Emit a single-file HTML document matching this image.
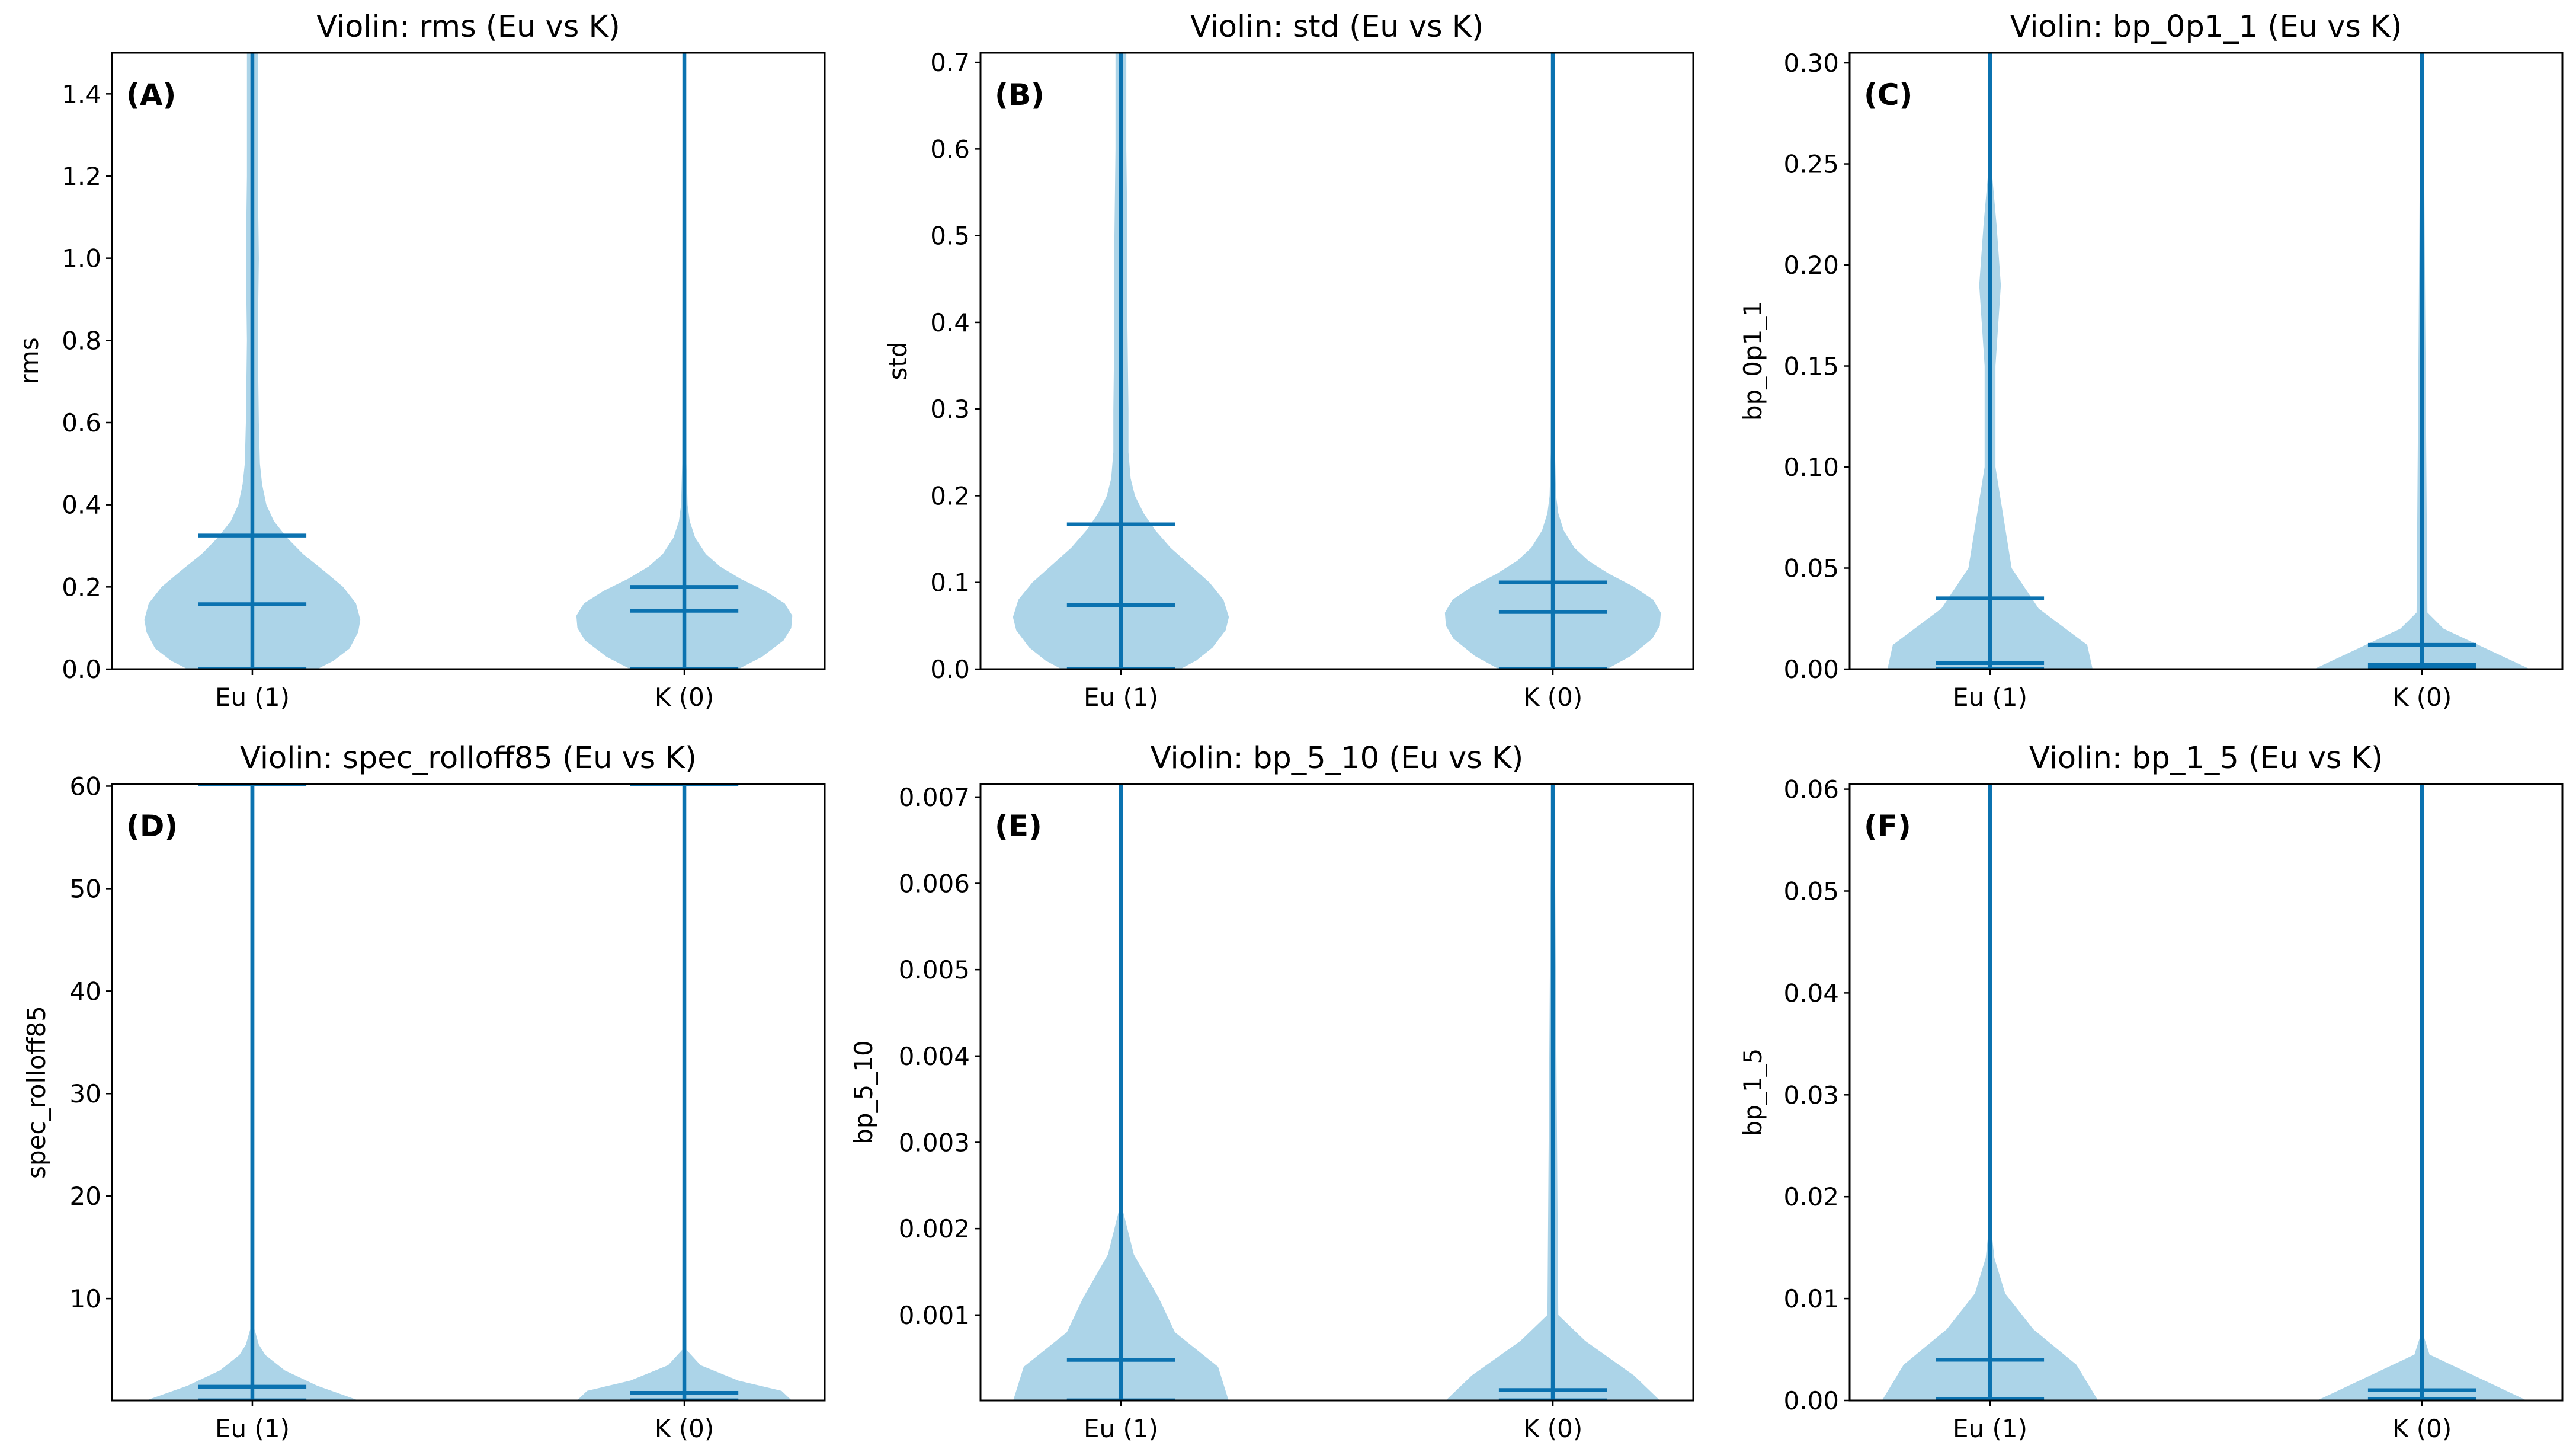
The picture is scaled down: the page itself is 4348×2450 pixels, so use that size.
<!DOCTYPE html>
<html><head><meta charset="utf-8"><style>
html,body{margin:0;padding:0;background:#fff;}
svg{display:block;font-family:"DejaVu Sans","Liberation Sans",sans-serif;}
</style></head><body>
<svg id="fig" width="4348" height="2450" viewBox="0 0 4348 2450" xmlns="http://www.w3.org/2000/svg"></svg>
<script>
const categories = ["Eu (1)", "K (0)"];
const titles = ["Violin: rms (Eu vs K)","Violin: std (Eu vs K)","Violin: bp_0p1_1 (Eu vs K)","Violin: spec_rolloff85 (Eu vs K)","Violin: bp_5_10 (Eu vs K)","Violin: bp_1_5 (Eu vs K)"];
const ylabels = ["rms","std","bp_0p1_1","spec_rolloff85","bp_5_10","bp_1_5"];
const letters = ["(A)","(B)","(C)","(D)","(E)","(F)"];
const ylims = [[0,1.5],[0,0.711],[0,0.305],[0.06,60.2],[0.00001,0.00715],[0,0.0605]];
const tickVals = [[0,0.2,0.4,0.6,0.8,1.0,1.2,1.4],[0,0.1,0.2,0.3,0.4,0.5,0.6,0.7],[0,0.05,0.1,0.15,0.2,0.25,0.3],[10,20,30,40,50,60],[0.001,0.002,0.003,0.004,0.005,0.006,0.007],[0,0.01,0.02,0.03,0.04,0.05,0.06]];
const tickLabels = [["0.0","0.2","0.4","0.6","0.8","1.0","1.2","1.4"],["0.0","0.1","0.2","0.3","0.4","0.5","0.6","0.7"],["0.00","0.05","0.10","0.15","0.20","0.25","0.30"],["10","20","30","40","50","60"],["0.001","0.002","0.003","0.004","0.005","0.006","0.007"],["0.00","0.01","0.02","0.03","0.04","0.05","0.06"]];
// violin profiles: [value, relative half-width]
const euProfileY = [
 [0,0.02,0.05,0.09,0.12,0.16,0.2,0.24,0.28,0.32,0.36,0.4,0.45,0.5,0.6,0.8,1.0,1.2,1.4,1.6],
 [0,0.01,0.025,0.045,0.06,0.08,0.1,0.12,0.14,0.16,0.18,0.2,0.22,0.25,0.3,0.4,0.5,0.6,0.75],
 [0,0.012,0.03,0.05,0.1,0.15,0.19,0.22,0.25,0.32],
 [0,1.5,3,4.5,5.5,7,61],
 [0,0.0004,0.0008,0.0012,0.0017,0.0022,0.008],
 [0,0.0035,0.007,0.0105,0.014,0.017,0.07]];
const euProfileW = [
 [0.6,0.75,0.9,0.98,1.0,0.96,0.84,0.66,0.47,0.32,0.2,0.13,0.09,0.07,0.06,0.05,0.06,0.05,0.05,0.05],
 [0.55,0.7,0.85,0.97,1.0,0.95,0.82,0.64,0.46,0.32,0.21,0.13,0.09,0.07,0.07,0.06,0.06,0.05,0.05],
 [0.95,0.9,0.45,0.2,0.05,0.05,0.1,0.06,0.01,0.01],
 [1.0,0.6,0.3,0.12,0.06,0.02,0.02],
 [1.0,0.9,0.5,0.35,0.12,0.02,0.01],
 [1.0,0.8,0.4,0.14,0.04,0.01,0.01]];
const kProfileY = [
 [0,0.03,0.07,0.1,0.13,0.16,0.19,0.22,0.25,0.28,0.32,0.36,0.4,0.5,1.6],
 [0,0.015,0.035,0.05,0.065,0.08,0.095,0.11,0.125,0.14,0.16,0.18,0.2,0.25,0.75],
 [0,0.005,0.02,0.028,0.32],
 [0,1,2,3.5,5,61],
 [0,0.0003,0.0007,0.001,0.008],
 [0,0.0045,0.0065,0.07]];
const kProfileW = [
 [0.5,0.72,0.92,0.99,1.0,0.93,0.75,0.52,0.33,0.2,0.1,0.05,0.03,0.02,0.015],
 [0.5,0.72,0.92,0.99,1.0,0.93,0.75,0.52,0.33,0.2,0.1,0.05,0.03,0.02,0.015],
 [1.0,0.8,0.2,0.05,0.01],
 [1.0,0.9,0.5,0.15,0.02,0.01],
 [1.0,0.75,0.3,0.05,0.01],
 [0.97,0.07,0.01,0.01]];
const euMean = [0.325,0.167,0.035,1.4,0.00048,0.004];
const euMedian = [0.158,0.074,0.003,0.06,0.00001,0.0001];
const kMean = [0.2,0.1,0.012,0.8,0.00013,0.001];
const kMedian = [0.142,0.066,0.002,0.06,0.00001,0.0001];
const minVals = [0,0,0,0.06,0.00001,0];
const euMax = [3,2,1,60.2,1,1];
const kMax = [3,2,1,60.2,1,1];

const NS="http://www.w3.org/2000/svg";
const svg=document.getElementById('fig');
const LINE="#0b72b0", FILL="#acd4e8";
const lefts=[189,1655,3122], rows=[[89,1129],[1323,2363]], W=1203;
const ylabOff=[137,137,161,125,195,161];
function mk(tag,attrs,parent){const e=document.createElementNS(NS,tag);for(const k in attrs)e.setAttribute(k,attrs[k]);(parent||svg).appendChild(e);return e;}

for(let p=0;p<6;p++){
  const L=lefts[p%3], T=rows[Math.floor(p/3)][0], B=rows[Math.floor(p/3)][1];
  const g=mk('g',{});
  
  
  const [y0,y1]=ylims[p];
  const ys=v=>B-(v-y0)/(y1-y0)*(B-T);
  const xs=u=>L+(u-0.675)/(2.325-0.675)*W;
  const unit=xs(2)-xs(1);
  const cid='clip'+p;
  const cp=mk('clipPath',{id:cid},g);mk('rect',{x:L,y:T,width:W,height:B-T},cp);
  const plot=mk('g',{'clip-path':'url(#'+cid+')'},g);
  const groups=[[euProfileY[p],euProfileW[p],euMean[p],euMedian[p],euMax[p]],[kProfileY[p],kProfileW[p],kMean[p],kMedian[p],kMax[p]]];
  groups.forEach((gr,i)=>{
    const cx=xs(i+1);
    const [py,pw,mean,med,mx]=gr;
    let right=[],left=[];
    for(let j=0;j<py.length;j++){right.push((cx+pw[j]*0.25*unit).toFixed(1)+','+ys(py[j]).toFixed(1));left.unshift((cx-pw[j]*0.25*unit).toFixed(1)+','+ys(py[j]).toFixed(1));}
    const poly=mk('polygon',{points:right.concat(left).join(' '),fill:FILL,stroke:'none'},plot);
    
    
    const cap=0.125*unit;
    const vl=mk('line',{x1:cx,x2:cx,y1:ys(minVals[p]),y2:ys(mx),stroke:LINE,'stroke-width':6.5},plot);
    
    
    [minVals[p],mx,mean,med].forEach((v,k)=>{
      const l=mk('line',{x1:cx-cap,x2:cx+cap,y1:ys(v),y2:ys(v),stroke:LINE,'stroke-width':6.5},plot);
      
      
    });
    mk('line',{x1:cx,x2:cx,y1:B,y2:B+10,stroke:'#000','stroke-width':2.5},g);
    const t=mk('text',{x:cx,y:B+62,'font-size':42,'text-anchor':'middle',fill:'#000'},g);
    t.textContent=categories[i];
    
    
  });
  mk('rect',{x:L,y:T,width:W,height:B-T,fill:'none',stroke:'#000','stroke-width':3},g);
  tickVals[p].forEach((v,k)=>{
    const y=ys(v);
    mk('line',{x1:L-10,x2:L,y1:y,y2:y,stroke:'#000','stroke-width':2.5},g);
    const t=mk('text',{x:L-18,y:y+15,'font-size':42,'text-anchor':'end',fill:'#000'},g);
    t.textContent=tickLabels[p][k];
    
    
  });
  const tt=mk('text',{x:L+W/2,y:T-27,'font-size':51,'text-anchor':'middle',fill:'#000'},g);
  tt.textContent=titles[p];
  
  
  const yl=mk('text',{x:0,y:0,'font-size':42,'text-anchor':'middle',fill:'#000',transform:'translate('+(L-ylabOff[p]+12)+','+((T+B)/2)+') rotate(-90)'},g);
  yl.textContent=ylabels[p];
  
  
  const lt=mk('text',{x:L+24,y:T+88,'font-size':50,'font-weight':'bold',fill:'#000'},g);
  lt.textContent=letters[p];
  
  
}
</script>
</body></html>
